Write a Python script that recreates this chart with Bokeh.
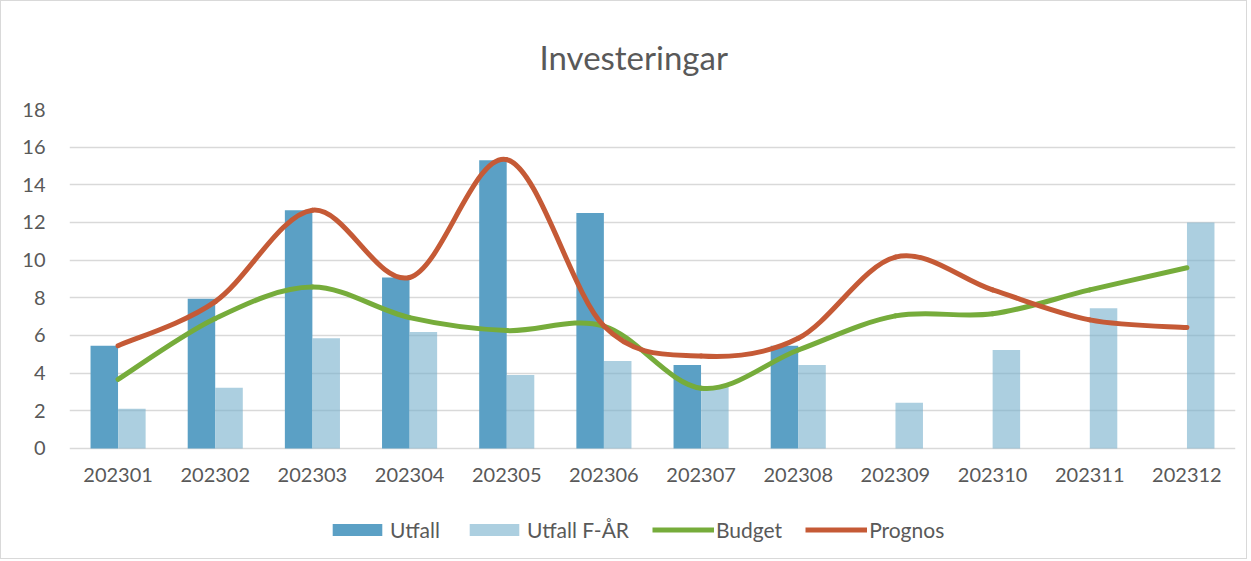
import numpy as np
from bokeh.plotting import figure
from bokeh.models import Legend, LegendItem, FixedTicker, ColumnDataSource, Title
from bokeh.embed import file_html
from bokeh.resources import INLINE

months = ["202301", "202302", "202303", "202304", "202305", "202306",
          "202307", "202308", "202309", "202310", "202311", "202312"]
utfall = [5.45, 7.95, 12.65, 9.08, 15.3, 12.5, 4.43, 5.45, None, None, None, None]
utfall_far = [2.11, 3.23, 5.85, 6.19, 3.9, 4.65, 3.28, 4.43, 2.43, 5.23, 7.45, 12.0]
budget = [3.67, 6.9, 8.57, 6.95, 6.26, 6.5, 3.2, 5.23, 7.04, 7.15, 8.42, 9.6]
prognos = [5.46, 7.8, 12.65, 9.08, 15.34, 6.5, 4.91, 5.85, 10.16, 8.42, 6.83, 6.42]
y_ticks = [0, 2, 4, 6, 8, 10, 12, 14, 16, 18]
title_text = "Investeringar"

FONT = "Lato"
GRAY = "#595959"
C_UTF = "#5BA0C5"
C_FAR = "#75AFCB"
C_BUD = "#76AC3B"
C_PRO = "#C55A36"

xs = list(range(1, len(months) + 1))

# the frame extends below 0 so that the legend can sit inside it; the x axis is pinned at 0
p = figure(frame_width=1166, frame_height=445, x_range=(0.5, 12.5), y_range=(-5.63, 18),
           output_backend="svg", toolbar_location=None,
           min_border_left=68, min_border_right=11, min_border_top=107, min_border_bottom=4)
p.styles = {"border": "1px solid #D9D9D9", "box-sizing": "border-box"}
p.outline_line_color = None
p.background_fill_color = "white"

p.xgrid.grid_line_color = None
p.ygrid.grid_line_color = "#D9D9D9"
p.ygrid.grid_line_width = 1.5
p.yaxis.ticker = FixedTicker(ticks=y_ticks)
p.xaxis.ticker = FixedTicker(ticks=xs)
p.xaxis.major_label_overrides = {i: m for i, m in zip(xs, months)}
p.xaxis.fixed_location = 0

for ax in (p.xaxis[0], p.yaxis[0]):
    ax.axis_line_color = None
    ax.major_tick_line_color = None
    ax.minor_tick_line_color = None
    ax.major_label_text_font = FONT
    ax.major_label_text_font_size = "20px"
    ax.major_label_text_color = GRAY
p.yaxis.major_label_standoff = 18
p.xaxis.major_label_standoff = 14

u_x = [x - 0.142 for x, v in zip(xs, utfall) if v is not None]
u_y = [v for v in utfall if v is not None]
r_u = p.vbar(x=u_x, top=u_y, width=0.283, fill_color=C_UTF, line_color=None)
r_f = p.vbar(x=[x + 0.142 for x in xs], top=utfall_far, width=0.283,
             fill_color=C_FAR, fill_alpha=0.6, line_color=None)


def smooth(ys):
    n = len(ys)
    d = dict(x0=[], y0=[], x1=[], y1=[], cx0=[], cy0=[], cx1=[], cy1=[])
    for i in range(n - 1):
        i0, i3 = max(i - 1, 0), min(i + 2, n - 1)
        x0, y0 = xs[i0], ys[i0]
        x1, y1 = xs[i], ys[i]
        x2, y2 = xs[i + 1], ys[i + 1]
        x3, y3 = xs[i3], ys[i3]
        d["x0"].append(x1); d["y0"].append(y1)
        d["x1"].append(x2); d["y1"].append(y2)
        d["cx0"].append(x1 + (x2 - x0) / 6); d["cy0"].append(y1 + (y2 - y0) / 6)
        d["cx1"].append(x2 - (x3 - x1) / 6); d["cy1"].append(y2 - (y3 - y1) / 6)
    return ColumnDataSource(d)


p.bezier(x0="x0", y0="y0", x1="x1", y1="y1", cx0="cx0", cy0="cy0", cx1="cx1", cy1="cy1",
         source=smooth(budget), line_color=C_BUD, line_width=5, line_cap="round")
p.bezier(x0="x0", y0="y0", x1="x1", y1="y1", cx0="cx0", cy0="cy0", cx1="cx1", cy1="cy1",
         source=smooth(prognos), line_color=C_PRO, line_width=5, line_cap="round")
# legend-only line renderers (a single NaN point draws nothing on the chart)
r_b = p.line(x=np.array([np.nan]), y=np.array([np.nan]), line_color=C_BUD, line_width=5)
r_p = p.line(x=np.array([np.nan]), y=np.array([np.nan]), line_color=C_PRO, line_width=5)

legend = Legend(items=[LegendItem(label="Utfall", renderers=[r_u]),
                       LegendItem(label="Utfall F-ÅR", renderers=[r_f]),
                       LegendItem(label="Budget", renderers=[r_b]),
                       LegendItem(label="Prognos", renderers=[r_p])],
                orientation="horizontal", location=(257, 12),
                label_text_font=FONT, label_text_font_size="21px", label_text_color=GRAY,
                glyph_width=62, glyph_height=15, label_standoff=2, spacing=23,
                padding=4, margin=0, border_line_color=None, background_fill_alpha=0)
p.add_layout(legend, "center")

p.add_layout(Title(text=title_text, align="left", offset=470, standoff=66,
                   text_font=FONT, text_font_size="33px", text_font_style="normal",
                   text_color=GRAY), "above")

open("out.html", "w").write(file_html(p, INLINE))
